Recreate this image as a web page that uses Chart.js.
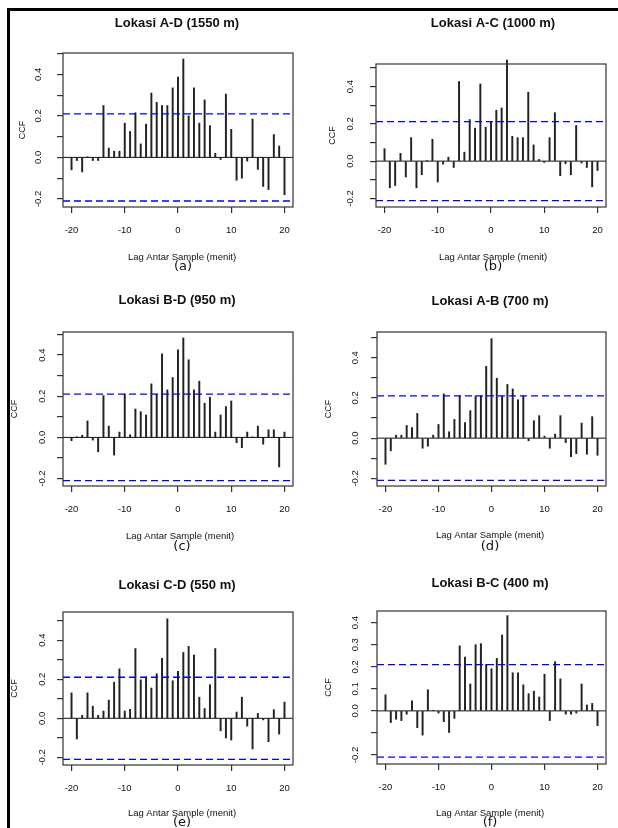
<!DOCTYPE html>
<html><head><meta charset="utf-8">
<script src="https://cdn.jsdelivr.net/npm/chart.js@4.4.0/dist/chart.umd.min.js"></script>
<style>
html,body{margin:0;padding:0;background:#fff;}
#page{position:relative;width:618px;height:828px;overflow:hidden;background:#fff;}
#page canvas{position:absolute;}
.bt{position:absolute;left:7px;top:8px;width:611px;height:3px;background:#000;}
.bl{position:absolute;left:7px;top:8px;width:3px;height:820px;background:#000;}
</style></head><body>
<div id="page">
<canvas id="c0" width="309" height="276" style="left:0px;top:0px"></canvas>
<canvas id="c1" width="309" height="276" style="left:309px;top:0px"></canvas>
<canvas id="c2" width="309" height="276" style="left:0px;top:276px"></canvas>
<canvas id="c3" width="309" height="276" style="left:309px;top:276px"></canvas>
<canvas id="c4" width="309" height="276" style="left:0px;top:552px"></canvas>
<canvas id="c5" width="309" height="276" style="left:309px;top:552px"></canvas>
<div class="bt"></div><div class="bl"></div>
</div>
<script>
// ---------- data ----------
const lags = [-20,-19,-18,-17,-16,-15,-14,-13,-12,-11,-10,-9,-8,-7,-6,-5,-4,-3,-2,-1,0,1,2,3,4,5,6,7,8,9,10,11,12,13,14,15,16,17,18,19,20];

const ccfAD = [-0.06,-0.015,-0.07,0.003,-0.015,-0.015,0.25,0.045,0.03,0.03,0.165,0.125,0.215,0.065,0.16,0.31,0.265,0.25,0.25,0.335,0.387,0.474,0.2,0.335,0.165,0.277,0.153,0.02,-0.01,0.305,0.135,-0.11,-0.1,-0.018,0.185,-0.058,-0.14,-0.155,0.11,0.055,-0.18];
const ccfAC = [0.067,-0.143,-0.131,0.042,-0.085,0.126,-0.143,-0.073,0.002,0.117,-0.112,-0.016,0.021,-0.034,0.427,0.048,0.223,0.177,0.414,0.182,0.21,0.273,0.285,0.542,0.133,0.126,0.126,0.37,0.087,0.009,-0.007,0.126,0.26,-0.078,-0.014,-0.073,0.191,-0.01,-0.034,-0.138,-0.05];
const ccfBD = [-0.016,0.002,0.01,0.08,-0.013,-0.07,0.203,0.055,-0.086,0.026,0.211,0.013,0.138,0.125,0.109,0.26,0.211,0.406,0.231,0.291,0.426,0.483,0.377,0.231,0.273,0.166,0.195,0.026,0.109,0.15,0.177,-0.026,-0.05,0.026,0.002,0.055,-0.033,0.037,0.037,-0.143,0.026];
const ccfAB = [-0.13,-0.063,0.015,0.015,0.063,0.052,0.123,-0.05,-0.04,0.015,0.068,0.22,0.032,0.093,0.21,0.077,0.137,0.21,0.21,0.357,0.495,0.298,0.21,0.267,0.245,0.19,0.21,-0.013,0.087,0.112,0.01,-0.05,0.02,0.112,-0.022,-0.092,-0.077,0.075,-0.08,0.107,-0.085];
const ccfCD = [0.13,-0.106,0.015,0.13,0.062,0.015,0.037,0.093,0.185,0.253,0.037,0.046,0.357,0.197,0.212,0.155,0.228,0.307,0.509,0.192,0.24,0.337,0.368,0.324,0.108,0.05,0.172,0.357,-0.064,-0.101,-0.111,0.032,0.108,-0.04,-0.157,0.025,-0.008,-0.12,0.044,-0.081,0.083];
const ccfBC = [0.073,-0.053,-0.038,-0.044,-0.015,0.046,-0.076,-0.11,0.096,0.002,-0.01,-0.049,-0.098,-0.034,0.295,0.244,0.122,0.3,0.305,0.211,0.191,0.238,0.344,0.432,0.173,0.173,0.118,0.078,0.089,0.063,0.166,-0.044,0.223,0.145,-0.015,-0.015,-0.01,0.122,0.027,0.034,-0.067];

const panelTitles = ['Lokasi A-D (1550 m)','Lokasi A-C (1000 m)','Lokasi B-D (950 m)','Lokasi A-B (700 m)','Lokasi C-D (550 m)','Lokasi B-C (400 m)'];
const panelTags = ['(a)','(b)','(c)','(d)','(e)','(f)'];
const xAxisTitle = 'Lag Antar Sample (menit)';
const yAxisTitle = 'CCF';
const ciLevels = [0.21,0.212,0.21,0.21,0.21,0.21];
const yTickLabelsDefault = ['-0.2','0.0','0.2','0.4'];
const yTickLabelsBC = ['-0.2','0.0','0.1','0.2','0.3','0.4'];
const xRange = [-21.6, 21.6];
const yRanges = [[-0.239,0.503],[-0.246,0.521],[-0.236,0.512],[-0.238,0.528],[-0.239,0.544],[-0.241,0.453]];

const seriesList = [ccfAD, ccfAC, ccfBD, ccfAB, ccfCD, ccfBC];
const yLabelSets = [yTickLabelsDefault,yTickLabelsDefault,yTickLabelsDefault,yTickLabelsDefault,yTickLabelsDefault,yTickLabelsBC];

// ---------- layout (page pixel coordinates) ----------
const layouts = [
  {cx:0,   cy:0,   L:63,  R:293, T:53,  B:207, title:[177,23],  xlab:[182,257], tag:[183,267], ccf:-40, ylab:-25},
  {cx:309, cy:0,   L:376, R:606, T:64,  B:207, title:[493,23],  xlab:[493,257], tag:[493,267], ccf:-43, ylab:-26},
  {cx:0,   cy:276, L:63,  R:293, T:332, B:486, title:[177,300], xlab:[180,536], tag:[182,547], ccf:-48, ylab:-21},
  {cx:309, cy:276, L:377, R:606, T:332, B:486, title:[490,301], xlab:[490,535], tag:[490,547], ccf:-48, ylab:-22},
  {cx:0,   cy:552, L:63,  R:293, T:612, B:765, title:[177,585], xlab:[182,813], tag:[182,823], ccf:-48, ylab:-21},
  {cx:309, cy:552, L:377, R:606, T:611, B:764, title:[490,583], xlab:[490,813], tag:[490,823], ccf:-48, ylab:-22}
];

const FONT = '"Liberation Sans", Arial, Helvetica, sans-serif';
const W = 309, H = 276, WY = 30, HX = 30;

function makePanel(i) {
  const lay = layouts[i];
  const vals = seriesList[i];
  const ci = ciLevels[i];
  const padL = lay.L - lay.cx - WY;
  const padR = lay.cx + W - lay.R;
  const padT = lay.T - lay.cy;
  const padB = lay.cy + H - lay.B - HX;

  const decor = {
    id: 'decor' + i,
    afterDatasetsDraw(chart) {
      const ctx = chart.ctx, a = chart.chartArea;
      ctx.save();
      ctx.strokeStyle = '#333';
      ctx.lineWidth = 1.2;
      ctx.strokeRect(a.left, a.top, a.right - a.left, a.bottom - a.top);
      ctx.restore();
    },
    afterDraw(chart) {
      const ctx = chart.ctx, a = chart.chartArea, ys = chart.scales.y;
      ctx.save();
      ctx.fillStyle = '#111';
      ctx.textAlign = 'center';
      ctx.textBaseline = 'middle';
      // rotated y tick labels
      ctx.font = '9.5px ' + FONT;
      for (const lab of yLabelSets[i]) {
        const py = ys.getPixelForValue(parseFloat(lab));
        ctx.save();
        ctx.translate(a.left + lay.ylab, py);
        ctx.rotate(-Math.PI / 2);
        ctx.fillText(lab, 0, 0);
        ctx.restore();
      }
      // y axis title
      ctx.save();
      ctx.font = '9px ' + FONT;
      ctx.translate(a.left + lay.ccf, (a.top + a.bottom) / 2);
      ctx.rotate(-Math.PI / 2);
      ctx.fillText(yAxisTitle, 0, 0);
      ctx.restore();
      // title
      ctx.font = 'bold 13px ' + FONT;
      ctx.fillText(panelTitles[i], lay.title[0] - lay.cx, lay.title[1] - lay.cy);
      // x axis title
      ctx.font = '9.5px ' + FONT;
      ctx.fillText(xAxisTitle, lay.xlab[0] - lay.cx, lay.xlab[1] - lay.cy);
      // panel tag
      ctx.font = '13px "DejaVu Sans", sans-serif';
      ctx.fillText(panelTags[i], lay.tag[0] - lay.cx, lay.tag[1] - lay.cy);
      ctx.restore();
    }
  };

  const lineDs = (y, color, dash, width) => ({
    type: 'line',
    data: [{x: xRange[0], y: y}, {x: xRange[1], y: y}],
    borderColor: color, borderWidth: width, borderDash: dash,
    pointRadius: 0, fill: false, order: 1
  });

  new Chart(document.getElementById('c' + i), {
    type: 'bar',
    data: {
      datasets: [
        {
          type: 'bar',
          data: lags.map((l, k) => ({x: l, y: vals[k]})),
          backgroundColor: '#222',
          borderWidth: 0,
          barThickness: 1.3,
          clip: false,
          order: 2
        },
        lineDs(0, '#111', [], 1),
        lineDs(ci, '#0000ff', [7, 4], 1.3),
        lineDs(-ci, '#0000ff', [7, 4], 1.3)
      ]
    },
    options: {
      responsive: false,
      animation: false,
      devicePixelRatio: 1,
      layout: {padding: {left: padL, right: padR, top: padT, bottom: padB}},
      plugins: {legend: {display: false}, tooltip: {enabled: false}, title: {display: false}},
      scales: {
        x: {
          type: 'linear', min: xRange[0], max: xRange[1], offset: false,
          ticks: {stepSize: 10, includeBounds: false, autoSkip: false, maxRotation: 0, minRotation: 0,
                  padding: 12, color: '#111', font: {family: FONT, size: 9.5},
                  callback: v => String(v)},
          grid: {drawOnChartArea: false, drawTicks: true, tickLength: 6, color: '#333', lineWidth: 1.2, offset: false},
          border: {display: false},
          afterFit: s => { s.height = HX; s.paddingLeft = 0; s.paddingRight = 0; }
        },
        y: {
          type: 'linear', min: yRanges[i][0], max: yRanges[i][1],
          ticks: {stepSize: 0.1, includeBounds: false, autoSkip: false, callback: () => '', font: {family: FONT, size: 9.5}},
          grid: {drawOnChartArea: false, drawTicks: true, tickLength: 6, color: '#333', lineWidth: 1.2},
          border: {display: false},
          afterFit: s => { s.width = WY; s.paddingTop = 0; s.paddingBottom = 0; }
        }
      }
    },
    plugins: [decor]
  });
}

for (let i = 0; i < 6; i++) makePanel(i);
</script>
</body></html>
